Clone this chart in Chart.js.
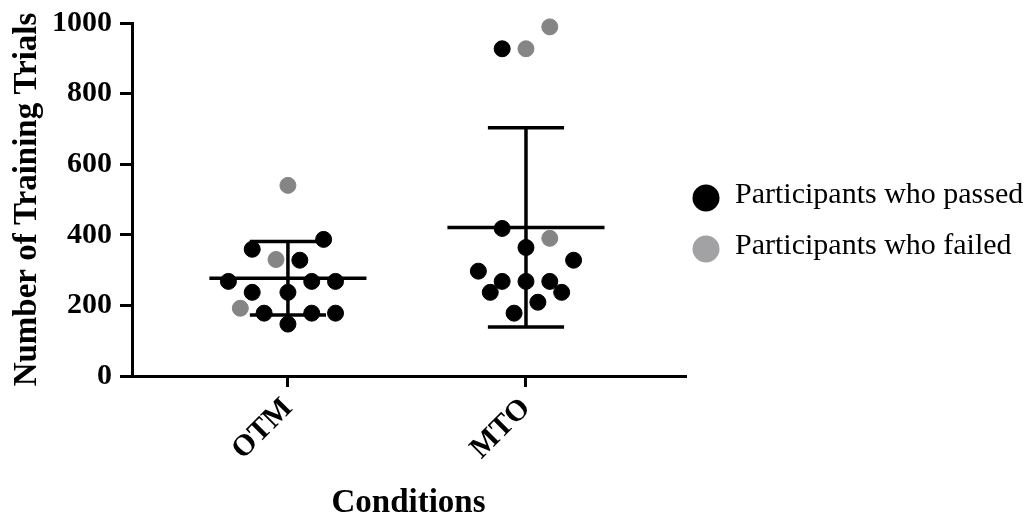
<!DOCTYPE html>
<html>
<head>
<meta charset="utf-8">
<script src="https://cdn.jsdelivr.net/npm/chart.js@4.4.0/dist/chart.umd.min.js"></script>
<style>
  html, body { margin: 0; padding: 0; background: #fff; }
  #wrap { width: 1031px; height: 518px; }
</style>
</head>
<body>
<div id="wrap"><canvas id="chart"></canvas></div>
<script>
// categories and where they sit on the x axis
const conditions = ['OTM', 'MTO'];
const conditionX = [1, 2];

// OTM values + horizontal jitter in category units
const otmPassed = [387, 359, 328, 268, 268, 268, 237, 237, 178, 178, 178, 147];
const otmPassedJitter = [0.15, -0.15, 0.05, -0.25, 0.1, 0.2, -0.15, 0, -0.1, 0.1, 0.2, 0];
const otmFailed = [540, 330, 192];
const otmFailedJitter = [0, -0.05, -0.2];

// MTO values
const mtoPassed = [927, 418, 364, 328, 297, 268, 268, 268, 237, 237, 209, 178];
const mtoPassedJitter = [-0.1, -0.1, 0, 0.2, -0.2, -0.1, 0, 0.1, -0.15, 0.15, 0.05, -0.05];
const mtoFailed = [989, 927, 390];
const mtoFailedJitter = [0.1, 0, 0.1];

// mean and SD per condition
const groupMean = [277, 421];
const groupSD = [104, 282];

const yTicks = [0, 200, 400, 600, 800, 1000];
const legendLabels = ['Participants who passed', 'Participants who failed'];

const FONT = "'Liberation Serif', 'Times New Roman', serif";
Chart.defaults.font.family = FONT;
Chart.defaults.color = '#000';

function toPoints(values, jitter, center) {
    return values.map((v, i) => ({ x: center + jitter[i], y: v }));
}

const passedPts = toPoints(otmPassed, otmPassedJitter, conditionX[0])
    .concat(toPoints(mtoPassed, mtoPassedJitter, conditionX[1]));
const failedPts = toPoints(otmFailed, otmFailedJitter, conditionX[0])
    .concat(toPoints(mtoFailed, mtoFailedJitter, conditionX[1]));

// mean line + error bars as line segments
const meanHalf = 0.33, capHalf = 0.16;
const barSets = [];
function seg(a, b) {
    return {
        type: 'line', data: [a, b], borderColor: '#000', borderWidth: 3.5,
        pointRadius: 0, pointHoverRadius: 0, fill: false, order: 2, clip: false
    };
}
conditionX.forEach((cx, i) => {
    const m = groupMean[i], hi = m + groupSD[i], lo = m - groupSD[i];
    barSets.push(seg({ x: cx - meanHalf, y: m }, { x: cx + meanHalf, y: m }));
    barSets.push(seg({ x: cx, y: lo }, { x: cx, y: hi }));
    barSets.push(seg({ x: cx - capHalf, y: hi }, { x: cx + capHalf, y: hi }));
    barSets.push(seg({ x: cx - capHalf, y: lo }, { x: cx + capHalf, y: lo }));
});

// legend on the right, drawn by hand
const sideLegend = {
    id: 'sideLegend',
    afterDraw(chart) {
        const ctx = chart.ctx;
        const cx = chart.chartArea.right + 21;
        const colors = ['#000000', '#a2a2a5'];
        ctx.save();
        ctx.font = '30px ' + FONT;
        ctx.textBaseline = 'middle';
        ctx.textAlign = 'left';
        legendLabels.forEach((txt, i) => {
            const cy = chart.chartArea.top + 175 + i * 51;
            ctx.beginPath();
            ctx.arc(cx, cy, 13.5, 0, Math.PI * 2);
            ctx.fillStyle = colors[i];
            ctx.fill();
            ctx.fillStyle = '#000';
            ctx.fillText(txt, cx + 29, cy - 3);
        });
        ctx.restore();
    }
};

new Chart(document.getElementById('chart').getContext('2d'), {
    type: 'scatter',
    data: {
        datasets: [
            {
                label: legendLabels[0], data: passedPts,
                backgroundColor: '#000', borderColor: '#000',
                pointRadius: 8, pointHoverRadius: 8, order: 1, clip: false
            },
            {
                label: legendLabels[1], data: failedPts,
                backgroundColor: '#858585', borderColor: '#858585',
                pointRadius: 8, pointHoverRadius: 8, order: 1, clip: false
            }
        ].concat(barSets)
    },
    options: {
        responsive: true,
        maintainAspectRatio: false,
        animation: false,
        layout: { padding: { left: 0, right: 346, top: 22, bottom: 0 } },
        plugins: {
            legend: { display: false },
            tooltip: { enabled: false }
        },
        scales: {
            x: {
                type: 'linear',
                min: 0.345,
                max: 2.668,
                afterBuildTicks: s => { s.ticks = conditionX.map(v => ({ value: v })); },
                afterFit: s => { s.height = 142; },
                ticks: {
                    autoSkip: false,
                    minRotation: 45,
                    maxRotation: 45,
                    padding: 4,
                    color: '#000',
                    font: { size: 30, weight: 'bold' },
                    callback: (v, i) => conditions[i]
                },
                grid: { drawOnChartArea: false, drawTicks: true, tickLength: 11, lineWidth: 3, color: '#000' },
                border: { display: true, width: 3, color: '#000' },
                title: {
                    display: true, text: 'Conditions', color: '#000',
                    font: { size: 33, weight: 'bold', lineHeight: 0.9 },
                    padding: 0
                }
            },
            y: {
                min: 0,
                max: 1000,
                afterBuildTicks: s => { s.ticks = yTicks.map(v => ({ value: v })); },
                afterFit: s => { s.width = 132; },
                ticks: {
                    padding: 8,
                    color: '#000',
                    font: { size: 30, weight: 'bold', lineHeight: 1.0 },
                    callback: v => String(v)
                },
                grid: { drawOnChartArea: false, drawTicks: true, tickLength: 12, lineWidth: 3, color: '#000' },
                border: { display: true, width: 3, color: '#000' },
                title: {
                    display: true, text: 'Number of Training Trials', color: '#000',
                    font: { size: 33, weight: 'bold', lineHeight: 1.2 },
                    padding: { top: 8, bottom: 0 }
                }
            }
        }
    },
    plugins: [sideLegend]
});
</script>
</body>
</html>
